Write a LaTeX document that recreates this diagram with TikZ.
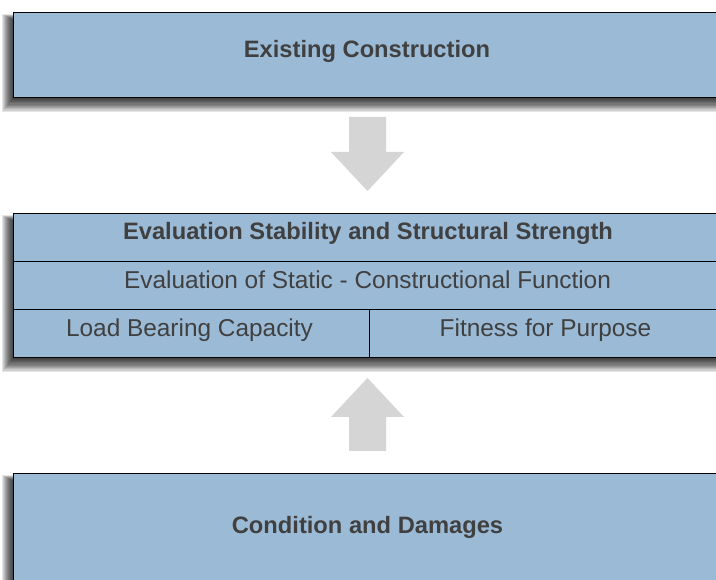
\documentclass[tikz,border=0pt]{standalone}
\usepackage{fontspec}
\setmainfont{Liberation Sans}
\definecolor{boxblue}{HTML}{9BBAD6}
\definecolor{txtgray}{HTML}{404040}
\definecolor{arrowgray}{HTML}{D5D5D5}
\newcommand{\mkshadow}[4]{%
  \foreach \i in {1,...,12}{%
    \fill[black, opacity=0.1] ({#1-12+\i}, {#2+2+\i*0.5}) rectangle ({#3+12-\i}, {#4+16-\i*1.2});
  }}
\begin{document}
\begin{tikzpicture}[x=1pt,y=-1pt,
  box/.style={draw=black, line width=1.1pt, fill=boxblue, rectangle, inner sep=0pt, anchor=north west},
  lbl/.style={anchor=base, text=txtgray, inner sep=0pt, font=\fontsize{24.4}{29}\selectfont},
  blbl/.style={anchor=base, text=txtgray, inner sep=0pt, font=\fontsize{23.7}{28}\selectfont\bfseries},
  divider/.style={draw=black, line width=0.9pt},
  blockarrow/.style={fill=arrowgray, draw=none}]
\useasboundingbox (0,0) rectangle (716,580);
\clip (0,0) rectangle (716,580);
\fill[white] (0,0) rectangle (716,580);
% shadows
\mkshadow{13}{12}{722}{97}
\mkshadow{13}{213}{722}{357}
\mkshadow{13}{473}{722}{613}
% boxes
\node[box, minimum width=709pt, minimum height=85pt] (top) at (13,12) {};
\node[box, minimum width=709pt, minimum height=144pt] (mid) at (13,213) {};
\node[box, minimum width=709pt, minimum height=140pt] (bot) at (13,473) {};
% dividers
\coordinate (r1l) at (13,261); \coordinate (r1r) at (722,261);
\coordinate (r2l) at (13,309); \coordinate (r2r) at (722,309);
\coordinate (vt) at (369,309); \coordinate (vb) at (369,357);
\draw[divider] (r1l) -- (r1r);
\draw[divider] (r2l) -- (r2r);
\draw[divider] (vt) -- (vb);
% texts
\node[blbl] (ttop) at (367,58) {Existing Construction};
\node[blbl] (tm1) at (368,240) {Evaluation Stability and Structural Strength};
\node[lbl] (tm2) at (367.5,288.5) {Evaluation of Static - Constructional Function};
\node[lbl] (tm3) at (189.5,337) {Load Bearing Capacity};
\node[lbl] (tm4) at (545.5,337) {Fitness for Purpose};
\node[blbl] (tbot) at (367.5,533) {Condition and Damages};
% block arrows
\fill[blockarrow] (349,117) -- (386,117) -- (386,152) -- (404,152) -- (367.5,191) -- (331,152) -- (349,152) -- cycle;
\fill[blockarrow] (367.5,378) -- (404,417) -- (386,417) -- (386,451) -- (349,451) -- (349,417) -- (331,417) -- cycle;
\end{tikzpicture}
\end{document}
